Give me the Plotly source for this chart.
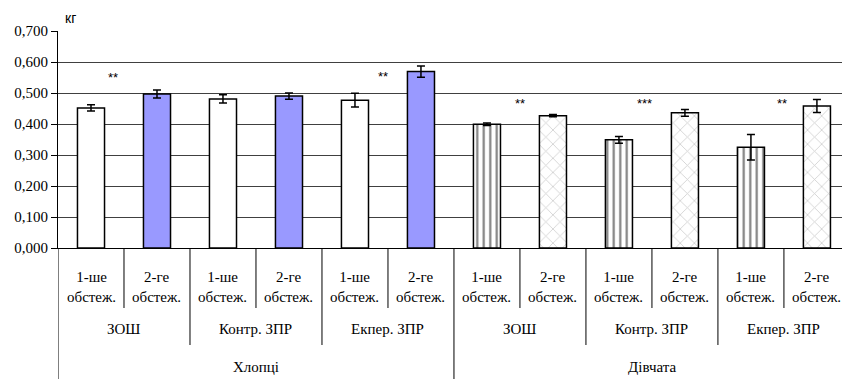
import plotly.graph_objects as go

# Category labels (three levels: gender > group > survey)
genders = ["Хлопці", "Дівчата"]
groups = ["ЗОШ", "Контр. ЗПР", "Екпер. ЗПР"]
surveys = ["1-ше<br>обстеж.", "2-ге<br>обстеж."]

# Mean values, kg
boys_first = [0.452, 0.481, 0.477]
boys_second = [0.497, 0.490, 0.569]
girls_first = [0.399, 0.349, 0.325]
girls_second = [0.427, 0.436, 0.458]

# Error (+/-), kg
boys_first_err = [0.010, 0.013, 0.022]
boys_second_err = [0.013, 0.010, 0.018]
girls_first_err = [0.004, 0.011, 0.041]
girls_second_err = [0.004, 0.011, 0.021]

# Significance marks: (x position in category units, y, text)
sig_x = [0.33, 4.42, 6.5, 8.39, 10.47]
sig_y = [0.550, 0.553, 0.465, 0.465, 0.465]
sig_text = ["**", "**", "**", "***", "**"]

n_groups = len(groups)
n_surv = len(surveys)


def pos(g, grp, s):
    return (g * n_groups + grp) * n_surv + s


BAR_W = 0.41
LINE = dict(color="black", width=1.5)
ERR = dict(type="data", visible=True, color="black", thickness=1.5, width=4)

fig = go.Figure()

fig.add_bar(
    x=[pos(0, i, 0) for i in range(n_groups)], y=boys_first, width=BAR_W,
    marker=dict(color="white", line=LINE),
    error_y=dict(array=boys_first_err, **ERR),
)
fig.add_bar(
    x=[pos(0, i, 1) for i in range(n_groups)], y=boys_second, width=BAR_W,
    marker=dict(color="#9999FF", line=LINE),
    error_y=dict(array=boys_second_err, **ERR),
)
fig.add_bar(
    x=[pos(1, i, 0) for i in range(n_groups)], y=girls_first, width=BAR_W,
    marker=dict(color="white", line=LINE,
                pattern=dict(shape="|", fgcolor="black", bgcolor="white",
                             size=6.5, solidity=0.33, fillmode="overlay")),
    error_y=dict(array=girls_first_err, **ERR),
)
fig.add_bar(
    x=[pos(1, i, 1) for i in range(n_groups)], y=girls_second, width=BAR_W,
    marker=dict(color="white", line=LINE,
                pattern=dict(shape="x", fgcolor="#a0a0a0", bgcolor="white",
                             size=10, solidity=0.16, fillmode="overlay")),
    error_y=dict(array=girls_second_err, **ERR),
)

SERIF = "Liberation Serif"
FONT = dict(family=SERIF, size=15, color="black")

annotations = []
for x, y, t in zip(sig_x, sig_y, sig_text):
    annotations.append(dict(x=x, y=y, xref="x", yref="y", text=t, showarrow=False,
                            font=dict(family="Liberation Sans", size=13, color="black")))

shapes = []
# Pixel -> paper helpers for the hierarchical axis below the plot
PLOT_TOP, PLOT_BOTTOM = 31, 248


def py(px):
    return (PLOT_BOTTOM - px) / (PLOT_BOTTOM - PLOT_TOP)


for g, gname in enumerate(genders):
    for grp, gr in enumerate(groups):
        for s, sv in enumerate(surveys):
            annotations.append(dict(x=pos(g, grp, s), y=py(287), xref="x", yref="paper",
                                    text=sv, showarrow=False, font=FONT,
                                    yanchor="middle"))
        annotations.append(dict(x=pos(g, grp, 0) + 0.5, y=py(329), xref="x", yref="paper",
                                text=gr, showarrow=False, font=FONT, yanchor="middle"))
    annotations.append(dict(x=pos(g, 1, 0) + 0.5, y=py(367), xref="x", yref="paper",
                            text=gname, showarrow=False, font=FONT, yanchor="middle"))

n_total = len(genders) * n_groups * n_surv
for b in range(n_total + 1):
    if b % (n_groups * n_surv) == 0:
        bottom = 390
    elif b % n_surv == 0:
        bottom = 345
    else:
        bottom = 308
    shapes.append(dict(type="line", xref="x", yref="paper", x0=b - 0.5, x1=b - 0.5,
                       y0=0, y1=py(bottom), line=dict(color="black", width=1)))

annotations.append(dict(x=0, y=py(18), xref="paper", yref="paper", text="кг",
                        showarrow=False, xanchor="left", yanchor="middle", xshift=5,
                        font=dict(family="Liberation Sans", size=14, color="black")))

fig.update_layout(
    width=842, height=379,
    margin=dict(l=58, r=0, t=PLOT_TOP, b=379 - PLOT_BOTTOM, pad=0),
    paper_bgcolor="white", plot_bgcolor="white",
    showlegend=False, barmode="overlay",
    separators=", ",
    font=FONT,
    annotations=annotations, shapes=shapes,
    xaxis=dict(range=[-0.5, 11.38], showticklabels=False, showgrid=False,
               zeroline=False, showline=True, linecolor="black", linewidth=1,
               ticks=""),
    yaxis=dict(range=[0, 0.7], dtick=0.1, tickformat=".3f",
               showgrid=True, gridcolor="#404040", gridwidth=1,
               zeroline=False, showline=True, linecolor="black", linewidth=1,
               ticks="outside", ticklen=6, tickcolor="black",
               tickfont=FONT),
)

fig.write_html("out.html")
